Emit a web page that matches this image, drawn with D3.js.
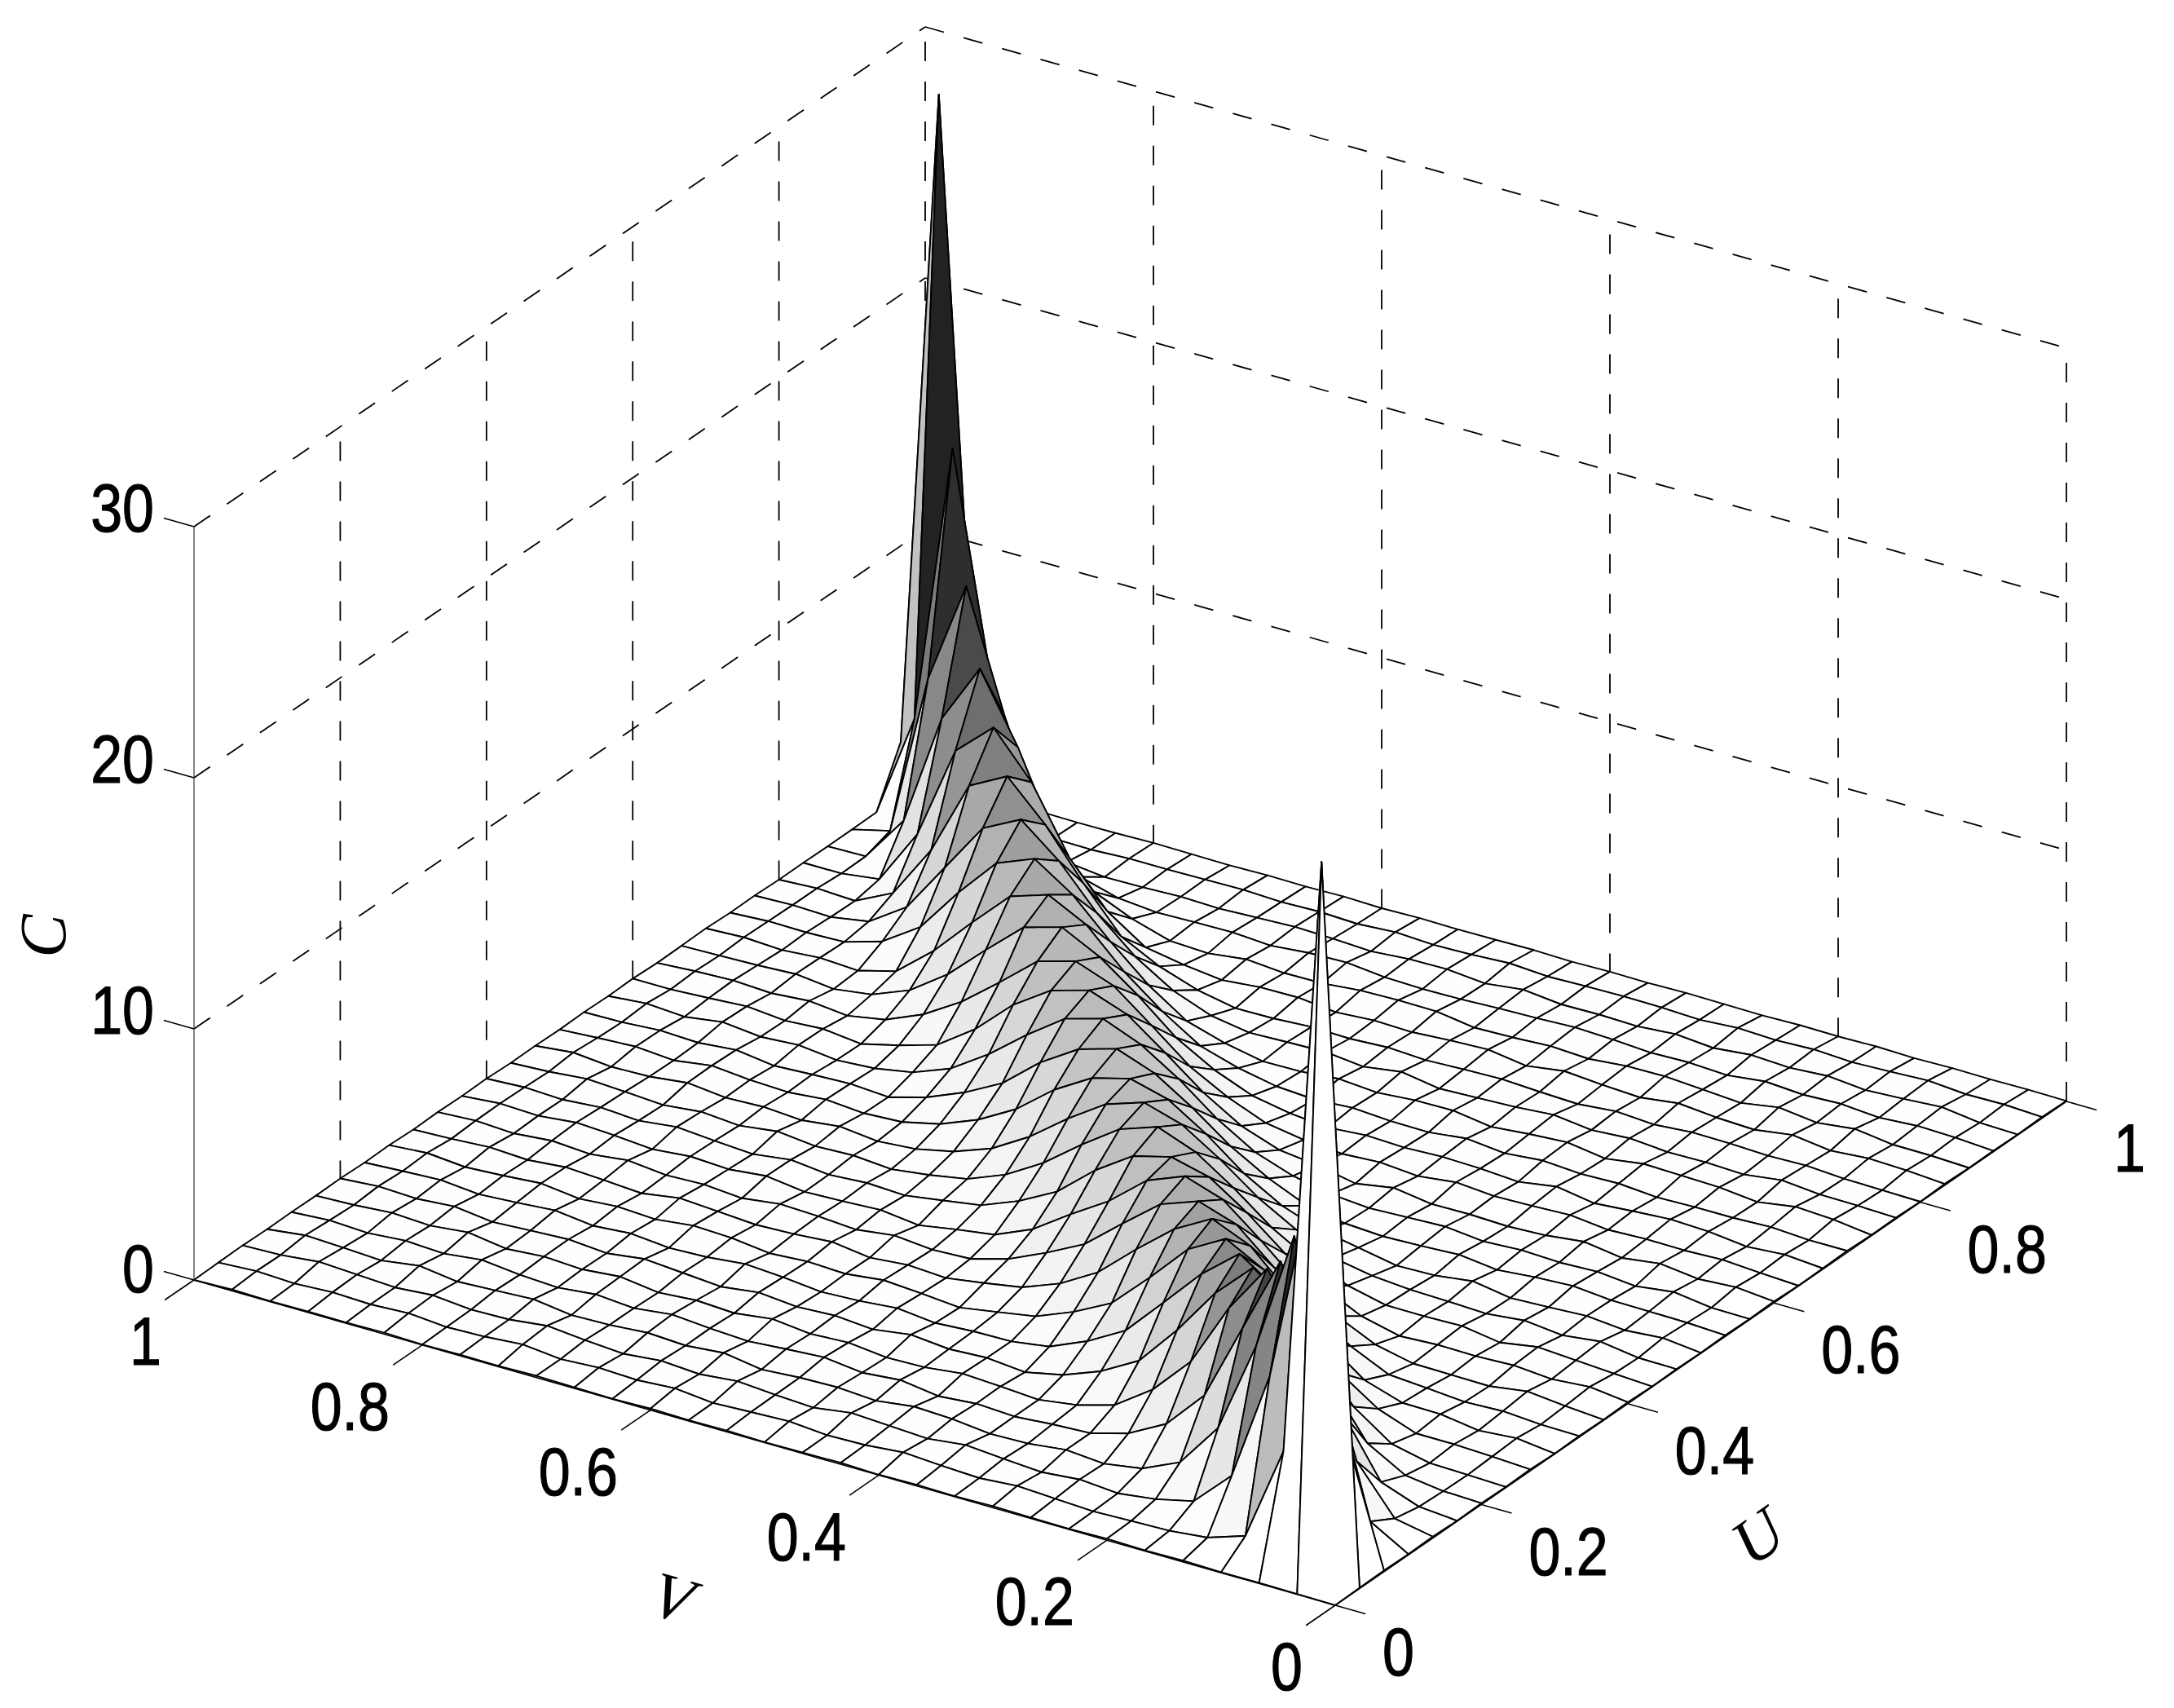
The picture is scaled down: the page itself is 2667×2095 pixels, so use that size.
<!DOCTYPE html>
<html><head><meta charset="utf-8">
<style>html,body{margin:0;padding:0;background:#fff}svg{display:block}</style>
<script src="https://cdn.jsdelivr.net/npm/d3@7/dist/d3.min.js"></script>
</head><body><svg id="chart" width="2667" height="2095"></svg>
<script>
const uTicks=[0,0.2,0.4,0.6,0.8,1];
const vTicks=[0,0.2,0.4,0.6,0.8,1];
const cTicks=[0,10,20,30];
const tickLabels=new Map([[0,"0"],[0.2,"0.2"],[0.4,"0.4"],[0.6,"0.6"],[0.8,"0.8"],[1,"1"]]);
const row00=[0,.02,.03,.02,.05,.03,.06,.02,.04,.06,.03,.05,.02,.06,.04,.02,.05,.03,.06,.02,.04,.07,.03,.05,.02,.06,.03,.04,.02,.05,0];
const row01=[.03,28.5,4.6,.8,.3,.14,.1,.05,.12,.2,.08,.15,.24,.1,.06,.18,.12,.05,.2,.1,.16,.07,.22,.1,.05,.17,.09,.14,.06,.12,.03];
const row02=[.05,5.0,13.9,6.5,2.1,.65,.3,.1,.22,.08,.18,.3,.12,.2,.28,.06,.14,.25,.1,.2,.05,.16,.3,.12,.08,.22,.1,.18,.26,.1,.05];
const row03=[.03,.9,6.3,11.4,6.6,2.9,1.1,.42,.18,.3,.12,.08,.24,.3,.1,.2,.16,.05,.28,.14,.22,.1,.06,.26,.18,.1,.3,.08,.16,.22,.03];
const row04=[.06,.35,2.2,6.4,9.3,6.2,3.1,1.53,.72,.3,.22,.1,.18,.05,.26,.12,.3,.2,.08,.16,.28,.1,.22,.06,.14,.3,.12,.2,.08,.15,.05];
const row05=[.02,.15,.7,3.0,6.0,7.9,5.9,3.34,1.8,.75,.32,.1,.2,.28,.1,.06,.22,.14,.3,.1,.18,.06,.26,.12,.2,.08,.3,.14,.22,.1,.04];
const row06=[.05,.1,.3,1.15,3.2,5.7,6.85,5.4,3.5,1.85,1.0,.42,.1,.24,.16,.3,.08,.2,.12,.26,.06,.18,.3,.1,.22,.14,.05,.24,.12,.18,.06];
const row07=[.03,.08,.12,.45,1.5,3.3,5.3,6.3,5.07,3.5,1.95,1.1,.45,.23,.2,.1,.26,.12,.05,.2,.3,.14,.08,.22,.1,.28,.16,.06,.2,.12,.03];
const row08=[.06,.14,.2,.2,.75,1.75,3.4,5.0,5.8,4.95,3.4,1.95,1.17,.56,.3,.05,.18,.28,.1,.16,.06,.24,.3,.12,.2,.08,.26,.14,.05,.18,.06];
const row09=[.02,.2,.08,.3,.32,.8,1.9,3.45,4.85,5.5,4.66,3.42,2.08,1.2,.62,.36,.13,.22,.08,.28,.16,.1,.2,.3,.06,.16,.24,.1,.18,.08,.02];
const row10=[.05,.08,.18,.12,.24,.35,1.05,2.0,3.3,4.6,5.1,4.55,3.35,2.1,1.33,.65,.23,.16,.3,.1,.2,.26,.06,.18,.12,.28,.1,.2,.06,.14,.05];
const row11=[.03,.15,.3,.08,.1,.12,.45,1.15,2.0,3.3,4.5,5.0,4.4,3.15,2.2,1.17,.52,.3,.04,.22,.14,.08,.28,.12,.2,.06,.18,.26,.1,.16,.03];
const row12=[.06,.24,.12,.24,.18,.2,.12,.48,1.2,2.1,3.3,4.3,4.67,4.28,3.28,2.0,1.2,.6,.36,.13,.2,.1,.26,.06,.16,.28,.1,.2,.08,.14,.06];
const row13=[.02,.1,.2,.3,.05,.28,.24,.25,.6,1.2,2.05,3.2,4.2,4.77,4.25,3.2,2.05,1.15,.55,.28,.08,.2,.14,.3,.1,.22,.06,.16,.24,.1,.02];
const row14=[.04,.06,.28,.1,.26,.1,.16,.2,.32,.6,1.3,2.15,3.25,4.2,4.65,4.15,3.15,2.0,1.1,.55,.22,.1,.26,.08,.18,.12,.28,.1,.06,.2,.04];
const row15=[.02,.18,.06,.2,.12,.06,.3,.1,.06,.35,.62,1.15,2.0,3.15,4.1,4.5,4.1,3.2,2.0,1.15,.55,.2,.12,.24,.1,.16,.3,.08,.2,.12,.02];
const row16=[.05,.12,.14,.16,.3,.22,.08,.26,.18,.13,.22,.5,1.15,2.0,3.1,4.05,4.6,4.15,3.2,1.94,1.14,.52,.1,.2,.14,.06,.26,.12,.18,.08,.05];
const row17=[.03,.05,.25,.05,.2,.14,.2,.12,.28,.22,.16,.28,.58,1.1,2.0,3.15,4.1,4.7,4.27,3.2,2.0,1.0,.42,.15,.05,.22,.12,.28,.06,.16,.03];
const row18=[.06,.2,.1,.28,.08,.3,.12,.05,.1,.08,.3,.04,.34,.52,1.05,1.95,3.1,4.2,4.74,4.3,3.3,1.9,.85,.4,.03,.2,.1,.24,.14,.06,.06];
const row19=[.02,.1,.2,.14,.16,.1,.26,.2,.16,.28,.1,.22,.13,.26,.5,1.1,1.9,3.1,4.25,4.8,4.37,3.1,1.9,.97,.33,.06,.22,.1,.18,.12,.02];
const row20=[.04,.16,.05,.22,.28,.18,.06,.3,.06,.16,.2,.14,.2,.08,.22,.5,1.1,1.95,3.2,4.3,5.06,4.63,3.3,1.9,.84,.24,.03,.2,.12,.08,.04];
const row21=[.07,.07,.16,.1,.1,.06,.18,.14,.24,.1,.26,.08,.1,.2,.1,.2,.5,.95,1.9,3.05,4.5,5.26,4.77,3.3,1.75,.5,.1,.18,.06,.14,.07];
const row22=[.03,.22,.3,.06,.22,.26,.3,.08,.3,.2,.06,.28,.26,.14,.26,.12,.1,.4,.85,1.85,3.15,4.6,5.6,5.0,3.4,1.6,.6,.15,.1,.12,.03];
const row23=[.05,.1,.12,.26,.06,.12,.1,.22,.12,.3,.18,.12,.06,.3,.08,.24,.2,.15,.4,.97,1.9,3.2,4.85,6.07,5.3,3.3,1.3,.3,.05,.1,.05];
const row24=[.02,.05,.08,.18,.14,.2,.22,.1,.2,.06,.12,.2,.16,.1,.18,.1,.14,.05,.03,.33,.84,1.6,3.3,5.2,6.7,5.9,2.9,.77,.03,.1,.02];
const row25=[.06,.17,.22,.1,.3,.08,.14,.28,.08,.16,.28,.06,.28,.22,.12,.16,.06,.22,.2,.06,.24,.5,1.5,3.2,5.8,7.55,6.2,2.45,.23,.03,.03];
const row26=[.03,.09,.1,.3,.12,.3,.05,.16,.26,.24,.1,.18,.1,.06,.28,.3,.26,.12,.1,.22,.03,.1,.55,1.2,2.8,6.1,8.8,6.4,1.9,.05,.02];
const row27=[.04,.14,.18,.08,.2,.14,.24,.06,.14,.1,.2,.26,.2,.16,.1,.08,.12,.28,.24,.1,.2,.18,.14,.28,.7,2.3,6.3,11,6.9,.4,.03];
const row28=[.02,.06,.26,.16,.08,.22,.12,.2,.05,.18,.06,.1,.08,.24,.06,.2,.18,.06,.14,.18,.12,.06,.1,.05,.03,.2,1.8,6.7,15.4,4.2,.05];
const row29=[.05,.12,.1,.22,.15,.1,.18,.12,.18,.08,.14,.16,.14,.1,.2,.12,.08,.16,.06,.12,.08,.14,.12,.1,.1,.03,.05,.45,3.5,28.4,2.2];
const row30=[.02,.04,.03,.05,.02,.06,.03,.05,.02,.04,.06,.03,.05,.02,.06,.04,.03,.05,.02,.06,.03,.05,.02,.04,.06,.03,.02,.04,.05,1.9,.1];
const surface=[row00,row01,row02,row03,row04,row05,row06,row07,row08,row09,row10,row11,row12,row13,row14,row15,row16,row17,row18,row19,row20,row21,row22,row23,row24,row25,row26,row27,row28,row29,row30];

// projection built from linear scales, with the slight perspective twist of the back corner
const originX=1638, originY=1969, twist=5;
const uX=d3.scaleLinear([0,1],[0,897]), uY=d3.scaleLinear([0,1],[0,-618]);
const vX=d3.scaleLinear([0,1],[0,-1400]), vY=d3.scaleLinear([0,1],[0,-399]);
const cY=d3.scaleLinear([0,30],[0,-924]);
const px=(u,v)=>originX+uX(u)+vX(v);
const py=(u,v,c)=>originY+uY(u)+vY(v)+cY(c)+twist*u*v;
const grey=d3.scaleLinear()
  .domain([0,.5,1,2,3.3,4.3,4.7,5.06,5.6,6.07,6.7,7.55,8.8,11,15.4,30])
  .range([255,252,246,232,214,192,187,176,158,144,128,110,74,46,34,0]);
const shade=c=>{const g=Math.round(grey(c));return d3.rgb(g,g,g).formatHex();};

const svg=d3.select("#chart");
const line=d3.line();
const seg=(a,b)=>line([[px(a[0],a[1]),py(a[0],a[1],a[2])],[px(b[0],b[1]),py(b[0],b[1],b[2])]]);

// back walls (dashed)
const walls=[];
cTicks.filter(c=>c>0).forEach(c=>{walls.push([[0,1,c],[1,1,c]]);walls.push([[1,1,c],[1,0,c]]);});
walls.push([[0,1,0],[1,1,0]],[[1,1,0],[1,0,0]]);
uTicks.filter(u=>u>0).forEach(u=>walls.push([[u,1,0],[u,1,30]]));
vTicks.filter(v=>v<1).forEach(v=>walls.push([[1,v,0],[1,v,30]]));
svg.append("g").attr("fill","none").attr("stroke","#000").attr("stroke-width",1.8).attr("stroke-dasharray","24 25")
  .selectAll("path").data(walls).join("path").attr("d",d=>seg(d[0],d[1]));

// surface: painted back to front, each cell flat-coloured from its low-index corner
const n=surface.length-1;
const cells=[];
d3.range(n).forEach(i=>d3.range(n).forEach(j=>cells.push({i,j})));
cells.sort((a,b)=>(b.i+b.j)-(a.i+a.j));
const vert=(i,j)=>[px(i/n,j/n),py(i/n,j/n,surface[i][j])];
svg.append("g").attr("stroke","#000").attr("stroke-width",1.9).attr("stroke-linejoin","round")
  .selectAll("path").data(cells).join("path")
  .attr("fill",d=>shade(surface[d.i][d.j]))
  .attr("d",d=>line([vert(d.i,d.j),vert(d.i+1,d.j),vert(d.i+1,d.j+1),vert(d.i,d.j+1)])+"Z");

// axes
const axes=svg.append("g").attr("fill","none").attr("stroke","#000").attr("stroke-width",1.6);
axes.append("path").attr("d",seg([0,0,0],[0,1,0]));
axes.append("path").attr("d",seg([0,0,0],[1,0,0]));
axes.append("path").attr("stroke-width",1.2).attr("stroke","#333").attr("d",seg([0,1,0],[0,1,30]));
const tickU=0.04, tickV=0.0265;
axes.selectAll(".tv").data(vTicks).join("path").attr("class","tv").attr("d",v=>seg([0,v,0],[-tickU,v,0]));
axes.selectAll(".tu").data(uTicks).join("path").attr("class","tu").attr("d",u=>seg([u,0,0],[u,-tickV,0]));
axes.selectAll(".tc").data(cTicks).join("path").attr("class","tc").attr("d",c=>seg([0,1,c],[0,1+tickV,c]));

// tick labels
const labels=svg.append("g").attr("font-family","'Liberation Sans',Arial,sans-serif").attr("font-size",70).attr("fill","#000").attr("stroke","#000").attr("stroke-width",1);
const put=(sel,x,y,anchor,txt)=>sel.append("text").attr("text-anchor",anchor).attr("dy","0.36em")
  .attr("transform",`translate(${x},${y}) scale(1,1.2)`).text(txt);
vTicks.forEach(v=>put(labels,px(0,v)-40,py(0,v,0)+74,"end",tickLabels.get(v)));
uTicks.forEach(u=>put(labels,px(u,0)+58,py(u,0,0)+56,"start",tickLabels.get(u)));
cTicks.forEach(c=>put(labels,px(0,1)-49,py(0,1,c)-(c>0?24:15),"end",String(c)));

// axis titles
const titles=svg.append("g").attr("font-family","'Liberation Serif','Times New Roman',serif").attr("font-style","italic").attr("font-size",80).attr("fill","#000").attr("text-anchor","middle");
const title=(x,y,r,t)=>titles.append("text").attr("dy","0.33em").attr("transform",`translate(${x},${y}) rotate(${r})`).text(t);
title(825,1960,16,"V");
title(2157,1885,-35,"U");
title(54,1148,-90,"C");
</script></body></html>
